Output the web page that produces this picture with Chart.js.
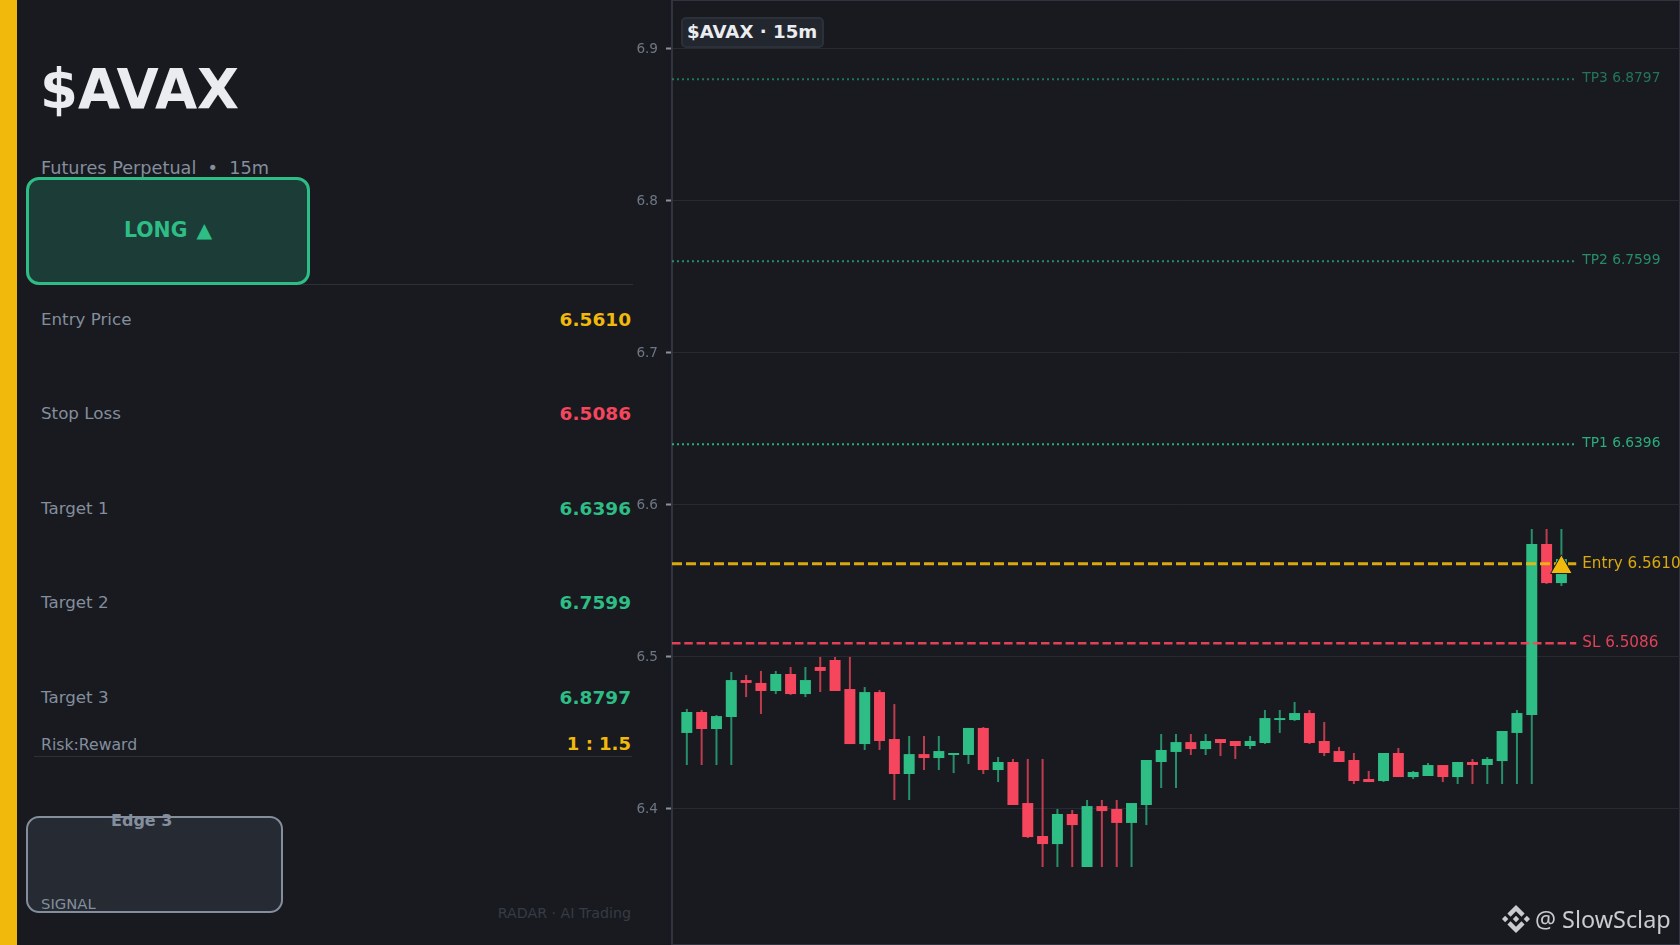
<!DOCTYPE html>
<html>
<head>
<meta charset="utf-8">
<title>$AVAX 15m</title>
<script src="https://cdn.jsdelivr.net/npm/chart.js@4"></script>
<style>
  html, body { margin: 0; padding: 0; background: #181a20; }
  body { width: 1680px; height: 945px; position: relative; overflow: hidden; font-family: "DejaVu Sans", sans-serif; }
  .abs { position: absolute; white-space: pre; line-height: 1; }
  #accent { position: absolute; left: 0; top: 0; width: 17px; height: 945px; background: #f0b90b; }
  #title { left: 40px; top: 62px; font-size: 54.5px; font-weight: bold; color: #eaecef; }
  #sub { left: 41px; top: 160px; font-size: 17.7px; color: #848e9c; }
  #longBox { position: absolute; left: 26px; top: 177px; width: 278px; height: 102px; border: 3px solid #2ebd85; border-radius: 13px; background: #1c3c37; }
  #longText { left: 124px; top: 220px; font-size: 20.4px; font-weight: bold; color: #2ebd85; word-spacing: 2px; }
  .rule { position: absolute; height: 1px; background: #2b3139; }
  .lbl { left: 41px; font-size: 16.7px; color: #848e9c; }
  .val { right: 1049px; font-size: 18.5px; font-weight: bold; }
  #edgeBox { position: absolute; left: 26px; top: 816px; width: 253px; height: 93px; border: 2px solid #848e9c; border-radius: 13px; background: #262a33; }
  #edgeText { left: 111px; top: 813px; font-size: 16px; font-weight: bold; color: #848e9c; }
  #signal { left: 41px; top: 897px; font-size: 14.8px; color: #848e9c; }
  #radar { right: 1049px; top: 906px; font-size: 14.2px; color: #363b44; }
  #myChart { position: absolute; left: 620px; top: 0; }
  #tag { left: 681px; top: 17px; width: 135px; height: 27px; padding-left: 4px; border: 2px solid #2b3039; border-radius: 5px; background: #22262f; font-size: 18.2px; line-height: 25px; font-weight: bold; color: #eaecef; box-sizing: content-box; }
  #mark { left: 1535px; top: 905px; font-family: "Noto Sans", sans-serif; font-size: 23.4px; color: #c8cbcf; line-height: 1.2; }
  #logo { position: absolute; left: 1502px; top: 905px; width: 28px; height: 28px; }
</style>
</head>
<body>
<div id="accent"></div>
<div class="abs" id="title">$AVAX</div>
<div class="abs" id="sub">Futures Perpetual  •  15m</div>
<div class="rule" style="left:34px;top:284px;width:599px"></div>
<div id="longBox"></div>
<div class="abs" id="longText">LONG ▲</div>
<div class="abs lbl" style="top:311px">Entry Price</div>
<div class="abs val" style="top:311px;color:#f0b90b">6.5610</div>
<div class="abs lbl" style="top:405px">Stop Loss</div>
<div class="abs val" style="top:405px;color:#f6465d">6.5086</div>
<div class="abs lbl" style="top:500px">Target 1</div>
<div class="abs val" style="top:500px;color:#2ebd85">6.6396</div>
<div class="abs lbl" style="top:594px">Target 2</div>
<div class="abs val" style="top:594px;color:#2ebd85">6.7599</div>
<div class="abs lbl" style="top:689px">Target 3</div>
<div class="abs val" style="top:689px;color:#2ebd85">6.8797</div>
<div class="abs lbl" style="top:737px;font-size:15.7px">Risk:Reward</div>
<div class="abs val" style="top:735px;font-size:18px;color:#f0b90b">1 : 1.5</div>
<div class="rule" style="left:34px;top:756px;width:598px"></div>
<div id="edgeBox"></div>
<div class="abs" id="edgeText">Edge 3</div>
<div class="abs" id="signal">SIGNAL</div>
<div class="abs" id="radar">RADAR · AI Trading</div>
<canvas id="myChart" width="1060" height="945"></canvas>
<div class="abs" id="tag">$AVAX · 15m</div>
<svg id="logo" viewBox="0 0 126.61 126.61" fill="#c8cbcf">
  <path d="M38.73 53.2l24.59-24.58 24.6 24.6 14.3-14.31L63.32 0 24.43 38.9z"/>
  <path d="M0 63.31l14.3-14.31 14.31 14.31-14.31 14.3z"/>
  <path d="M38.73 73.41L63.32 98l24.6-24.6 14.31 14.29-38.91 38.91-38.9-38.88z"/>
  <path d="M98 63.31L112.3 49l14.31 14.3-14.31 14.32z"/>
  <path d="M77.83 63.3L63.32 48.78 52.59 59.51l-1.24 1.23-2.54 2.54 14.51 14.5 14.51-14.47z"/>
</svg>
<div class="abs" id="mark">@ SlowSclap</div>

<script>
// candles, oldest first
const opens = [6.4496,6.4634,6.4522,6.4601,6.4844,6.4825,6.4772,6.4884,6.4752,6.4930,
  6.4976,6.4785,6.4423,6.4765,6.4456,6.4226,6.4357,6.4331,6.4351,6.4351,
  6.4529,6.4252,6.4305,6.4035,6.3818,6.3765,6.3963,6.3614,6.4015,6.3996,
  6.3904,6.4022,6.4305,6.4371,6.4436,6.4390,6.4456,6.4443,6.4410,6.4430,
  6.4581,6.4581,6.4627,6.4443,6.4377,6.4318,6.4193,6.4180,6.4364,6.4206,
  6.4213,6.4285,6.4206,6.4305,6.4285,6.4311,6.4496,6.4614,6.5739,6.5482];
const highs = [6.4654,6.4647,6.4614,6.4897,6.4877,6.4904,6.4904,6.4930,6.4930,6.4996,
  6.4996,6.4996,6.4798,6.4779,6.4686,6.4476,6.4476,6.4476,6.4364,6.4529,
  6.4535,6.4338,6.4325,6.4325,6.4325,6.3996,6.3989,6.4055,6.4055,6.4055,
  6.4035,6.4318,6.4489,6.4489,6.4489,6.4489,6.4456,6.4443,6.4476,6.4647,
  6.4647,6.4700,6.4647,6.4568,6.4404,6.4364,6.4246,6.4364,6.4397,6.4246,
  6.4298,6.4285,6.4305,6.4325,6.4338,6.4509,6.4647,6.5838,6.5838,6.5838];
const lows = [6.4285,6.4285,6.4285,6.4285,6.4732,6.4621,6.4752,6.4746,6.4732,6.4765,
  6.4772,6.4423,6.4384,6.4384,6.4055,6.4055,6.4252,6.4252,6.4232,6.4292,
  6.4226,6.4173,6.4022,6.3805,6.3614,6.3614,6.3614,6.3614,6.3614,6.3614,
  6.3614,6.3890,6.4134,6.4134,6.4351,6.4351,6.4344,6.4325,6.4390,6.4423,
  6.4496,6.4575,6.4423,6.4344,6.4305,6.4160,6.4173,6.4173,6.4206,6.4193,
  6.4213,6.4173,6.4160,6.4160,6.4160,6.4160,6.4160,6.4160,6.5476,6.5463];
const closes = [6.4634,6.4522,6.4607,6.4844,6.4825,6.4772,6.4884,6.4752,6.4844,6.4904,
  6.4772,6.4423,6.4765,6.4443,6.4226,6.4357,6.4331,6.4377,6.4364,6.4529,
  6.4252,6.4305,6.4022,6.3811,6.3765,6.3963,6.3890,6.4015,6.3982,6.3904,
  6.4035,6.4318,6.4384,6.4436,6.4390,6.4443,6.4430,6.4410,6.4443,6.4594,
  6.4594,6.4627,6.4430,6.4364,6.4305,6.4180,6.4173,6.4364,6.4206,6.4239,
  6.4285,6.4206,6.4305,6.4285,6.4325,6.4509,6.4627,6.5739,6.5482,6.5640];

const priceTicks = [6.4, 6.5, 6.6, 6.7, 6.8, 6.9];

// horizontal levels
const levelNames = ['TP3', 'TP2', 'TP1', 'Entry', 'SL'];
const levelPrices = [6.8797, 6.7599, 6.6396, 6.5610, 6.5086];
const levelColors = ['#2ebd858c', '#2ebd85b3', '#2ebd85e6', '#f0b90be6', '#f6465de6'];
const levelDashes = [[2, 3], [2, 3], [2, 3], [10, 4], [8.5, 3.8]];
const levelWidths = [2, 2, 2, 3, 2.5];
const levelFonts = [13.8, 13.8, 13.8, 15.2, 15.2];
const levelLift = [1, 1, 1, 0, 0];
const levelSpan = [-1, 60];

// entry marker
const markerX = [59];
const markerY = [6.5586];

const GREEN = '#2ebd85';
const RED = '#f6465d';
const GREEN_WICK = '#2ebd85b8';
const RED_WICK = '#f6465dc0';

Chart.defaults.font.family = '"DejaVu Sans", sans-serif';

const isUp = i => closes[i] >= opens[i];

const wicks = {
  type: 'bar',
  order: 4,
  grouped: false,
  barThickness: 2,
  inflateAmount: 0,
  data: opens.map((o, i) => ({ x: i, y: [lows[i], highs[i]] })),
  backgroundColor: opens.map((o, i) => isUp(i) ? GREEN_WICK : RED_WICK)
};

const bodies = {
  type: 'bar',
  order: 3,
  grouped: false,
  barThickness: 11,
  inflateAmount: 0,
  data: opens.map((o, i) => ({ x: i, y: [o, closes[i]] })),
  backgroundColor: opens.map((o, i) => isUp(i) ? GREEN : RED)
};

const levelLines = levelPrices.map((p, i) => ({
  type: 'line',
  order: 2,
  data: levelSpan.map(x => ({ x: x, y: p })),
  borderColor: levelColors[i],
  borderWidth: levelWidths[i],
  borderDash: levelDashes[i],
  pointRadius: 0
}));

const marker = {
  type: 'scatter',
  order: 1,
  data: markerX.map((x, i) => ({ x: x, y: markerY[i] })),
  pointStyle: 'triangle',
  pointRadius: 12.5,
  pointBackgroundColor: '#f0b90b',
  pointBorderColor: '#181a20',
  pointBorderWidth: 1
};

// frame round the plot and the text at the end of each level line
const extras = {
  id: 'extras',
  beforeDraw(chart) {
    const { ctx, chartArea: a } = chart;
    ctx.save();
    ctx.strokeStyle = '#2f343f';
    ctx.lineWidth = 2;
    ctx.strokeRect(a.left, a.top, a.right - a.left, a.bottom - a.top);
    ctx.restore();
  },
  afterDatasetsDraw(chart) {
    const { ctx, scales } = chart;
    ctx.save();
    ctx.textBaseline = 'middle';
    levelPrices.forEach((p, i) => {
      ctx.font = levelFonts[i] + 'px "DejaVu Sans"';
      ctx.fillStyle = levelColors[i];
      const x = scales.x.getPixelForValue(levelSpan[1]) + 6;
      ctx.fillText(levelNames[i] + ' ' + p.toFixed(4), x, scales.y.getPixelForValue(p) - levelLift[i]);
    });
    ctx.restore();
  }
};

const ctx = document.getElementById('myChart').getContext('2d');
const myChart = new Chart(ctx, {
  data: { datasets: [wicks, bodies, ...levelLines, marker] },
  plugins: [extras],
  options: {
    responsive: false,
    animation: false,
    layout: { autoPadding: false, padding: 0 },
    plugins: { legend: { display: false }, tooltip: { enabled: false } },
    scales: {
      x: {
        type: 'linear',
        display: false,
        offset: false,
        min: -1,
        max: 67
      },
      y: {
        type: 'linear',
        min: 6.3101,
        max: 6.9318,
        afterFit: s => { s.width = 52; s.paddingTop = 0; s.paddingBottom = 0; },
        afterBuildTicks: s => { s.ticks = priceTicks.map(v => ({ value: v })); },
        grid: { color: '#262a31', lineWidth: 1, tickColor: '#8a909c', tickWidth: 2, tickLength: 6 },
        border: { color: '#2f343f', width: 2 },
        ticks: {
          color: '#6f7683',
          padding: 8,
          labelOffset: 1,
          font: { size: 13.6 },
          callback: v => v.toFixed(1)
        }
      }
    }
  }
});
</script>
</body>
</html>
